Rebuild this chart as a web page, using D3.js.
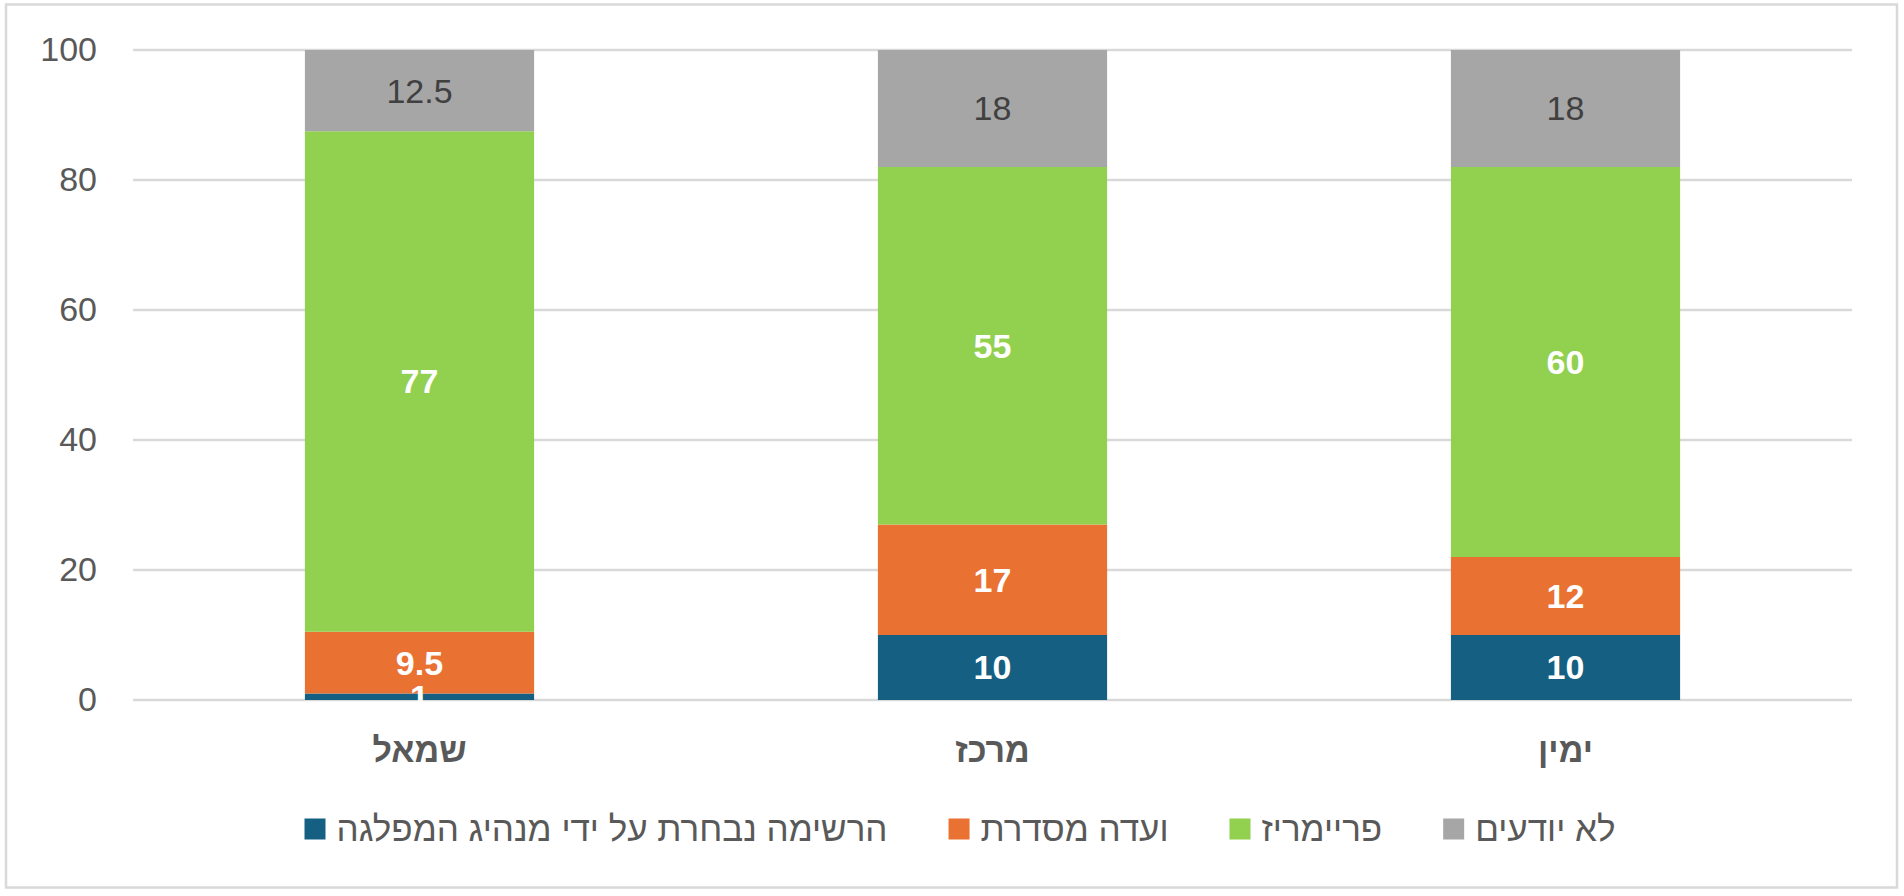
<!DOCTYPE html>
<html>
<head>
<meta charset="utf-8">
<script src="https://cdn.jsdelivr.net/npm/d3@7"></script>
<style>
  body { margin: 0; background: #fff; }
  text { font-family: "Liberation Sans", Arial, sans-serif; }
</style>
</head>
<body>
<div id="chart"></div>
<script>
// categories and series (percent)
const categories = ["שמאל", "מרכז", "ימין"];
const seriesNames = ["הרשימה נבחרת על ידי מנהיג המפלגה", "ועדה מסדרת", "פריימריז", "לא יודעים"];
const leaderValues = [1, 10, 10];
const committeeValues = [9.5, 17, 12];
const primariesValues = [77, 55, 60];
const unknownValues = [12.5, 18, 18];
const yTicks = [0, 20, 40, 60, 80, 100];

const colors = ["#156082", "#E97132", "#92D050", "#A6A6A6"];
const labelColors = ["#fff", "#fff", "#fff", "#404040"];
const labelWeights = ["bold", "bold", "bold", "normal"];

const width = 1904, height = 896;
const margin = { top: 50, right: 52, bottom: 196, left: 133 };

// build rows for the stack
const table = categories.map((c, i) => ({
    cat: c,
    s0: leaderValues[i],
    s1: committeeValues[i],
    s2: primariesValues[i],
    s3: unknownValues[i]
}));
const keys = ["s0", "s1", "s2", "s3"];
const stacked = d3.stack().keys(keys)(table);

const svg = d3.select("#chart").append("svg")
    .attr("width", width)
    .attr("height", height);

// outer frame
svg.append("rect")
    .attr("x", 6).attr("y", 4.5)
    .attr("width", width - 13).attr("height", height - 13)
    .attr("fill", "#fff")
    .attr("stroke", "#d9d9d9")
    .attr("stroke-width", 2.5);

const x = d3.scaleBand()
    .domain(categories)
    .range([margin.left, width - margin.right])
    .paddingInner(0.6)
    .paddingOuter(0.3);

const y = d3.scaleLinear()
    .domain([0, 100])
    .range([height - margin.bottom, margin.top]);

// gridlines
svg.append("g")
    .selectAll("line")
    .data(yTicks)
    .enter().append("line")
    .attr("x1", margin.left)
    .attr("x2", width - margin.right)
    .attr("y1", d => y(d))
    .attr("y2", d => y(d))
    .attr("stroke", "#d9d9d9")
    .attr("stroke-width", 2.5);

// y axis labels
const yAxis = d3.axisLeft(y).tickValues(yTicks).tickSize(0).tickPadding(36);
const yg = svg.append("g")
    .attr("transform", `translate(${margin.left},0)`)
    .call(yAxis);
yg.select(".domain").remove();
yg.selectAll("text")
    .attr("fill", "#595959")
    .style("font-size", "34px")
    .style("font-family", "Liberation Sans, Arial, sans-serif");

// bars
const layers = svg.append("g")
    .selectAll("g")
    .data(stacked)
    .enter().append("g")
    .attr("fill", (d, i) => colors[i]);

layers.selectAll("rect")
    .data(d => d)
    .enter().append("rect")
    .attr("x", d => x(d.data.cat))
    .attr("width", x.bandwidth())
    .attr("y", d => y(d[1]))
    .attr("height", d => y(d[0]) - y(d[1]));

// data labels
stacked.forEach((layer, i) => {
    svg.append("g")
        .selectAll("text")
        .data(layer)
        .enter().append("text")
        .attr("x", d => x(d.data.cat) + x.bandwidth() / 2)
        .attr("y", d => y((d[0] + d[1]) / 2))
        .attr("dy", "0.35em")
        .attr("text-anchor", "middle")
        .attr("fill", labelColors[i])
        .style("font-size", "34px")
        .style("font-weight", labelWeights[i])
        .text(d => d[1] - d[0]);
});

// category labels
const xAxis = d3.axisBottom(x).tickSize(0).tickPadding(38);
const xg = svg.append("g")
    .attr("transform", `translate(0,${height - margin.bottom})`)
    .call(xAxis);
xg.select(".domain").remove();
xg.selectAll("text")
    .attr("fill", "#595959")
    .style("font-size", "34px")
    .style("font-weight", "bold")
    .style("font-family", "Liberation Sans, Arial, sans-serif");

// legend, laid out right to left
const legendY = 829;
const sq = 21, sqGap = 11, itemGap = 61;
const legend = svg.append("g");
const items = seriesNames.map((name, i) => {
    const g = legend.append("g");
    g.append("rect")
        .attr("width", sq).attr("height", sq)
        .attr("y", legendY - sq / 2)
        .attr("fill", colors[i]);
    const t = g.append("text")
        .attr("x", sq + sqGap)
        .attr("y", legendY)
        .attr("dy", "0.35em")
        .attr("fill", "#595959")
        .style("font-size", "35px")
        .text(name);
    return { g: g, w: sq + sqGap + t.node().getComputedTextLength() };
});
const total = d3.sum(items, d => d.w) + itemGap * (items.length - 1);
let right = 960 + total / 2;
for (let i = items.length - 1; i >= 0; i--) {
    items[i].g.attr("transform", `translate(${right - items[i].w},0)`);
    right -= items[i].w + itemGap;
}
</script>
</body>
</html>
